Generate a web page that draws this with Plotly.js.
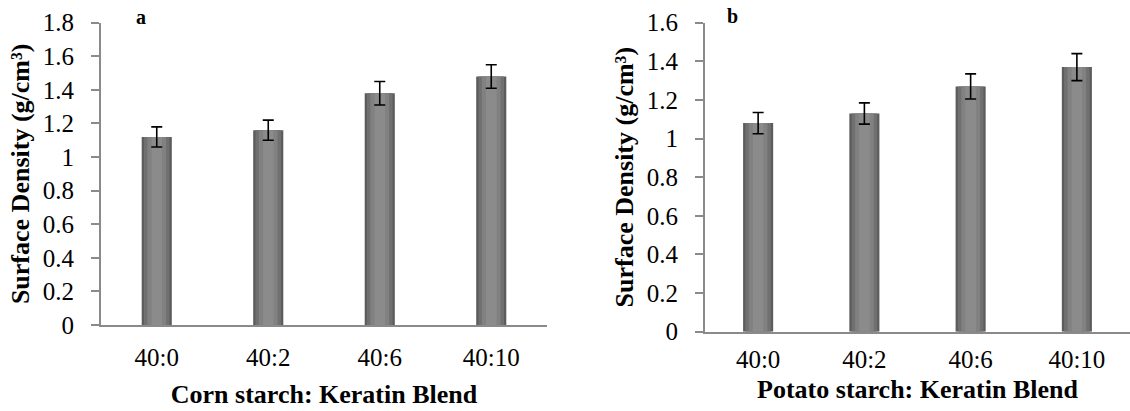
<!DOCTYPE html>
<html><head><meta charset="utf-8">
<script src="https://cdn.plot.ly/plotly-3.0.1.min.js"></script>
<style>html,body{margin:0;padding:0;background:#fff}</style>
</head><body><div id="chart" style="width:1130px;height:411px"></div>
<script>
const categories = ['40:0', '40:2', '40:6', '40:10'];
const cornDensity = [1.12, 1.16, 1.38, 1.48];
const cornError = [0.06, 0.06, 0.07, 0.07];
const potatoDensity = [1.08, 1.13, 1.27, 1.37];
const potatoError = [0.055, 0.055, 0.065, 0.07];
const cornTicks = [0, 0.2, 0.4, 0.6, 0.8, 1, 1.2, 1.4, 1.6, 1.8];
const potatoTicks = [0, 0.2, 0.4, 0.6, 0.8, 1, 1.2, 1.4, 1.6];
const yTitle = 'Surface Density (g/cm³)';
const xTitleCorn = 'Corn starch: Keratin Blend';
const xTitlePotato = 'Potato starch: Keratin Blend';

const FONT = '"Liberation Serif", "Times New Roman", Times, serif';

function layers(y, err, xa, ya, w) {
  const shades = [
    {c: '#5c5c5c', f: 1.0},
    {c: '#707070', f: 0.85},
    {c: '#818181', f: 0.62},
    {c: '#8b8b8b', f: 0.35}
  ];
  return shades.map((s, i) => ({
    type: 'bar', x: categories, y: y, xaxis: xa, yaxis: ya,
    width: w * s.f, marker: {color: s.c, line: {width: 0}},
    hoverinfo: 'skip', showlegend: false,
    error_y: i === shades.length - 1 ? {type: 'data', array: err, visible: true, color: '#000', thickness: 1.6, width: 5.5} : {visible: false}
  }));
}

const data = [].concat(
  layers(cornDensity, cornError, 'x', 'y', 0.27),
  layers(potatoDensity, potatoError, 'x2', 'y2', 0.283)
);

const axisLine = {showline: true, linecolor: '#8a8a8a', linewidth: 2, showgrid: false, zeroline: false};
const tickFont = {family: FONT, size: 25, color: '#000'};
const titleFont = {family: FONT, size: 26, color: '#000', weight: 'bold'};

const layout = {
  width: 1130, height: 411,
  margin: {l: 0, r: 0, t: 0, b: 0},
  paper_bgcolor: '#fff', plot_bgcolor: '#fff',
  barmode: 'overlay',
  font: {family: FONT, color: '#000'},
  xaxis: Object.assign({}, axisLine, {
    domain: [101/1130, 547/1130], anchor: 'y', range: [-0.5, 3.5],
    ticks: '', tickfont: tickFont, ticklabelstandoff: 9,
    title: {text: xTitleCorn, font: titleFont, standoff: 15}
  }),
  yaxis: Object.assign({}, axisLine, {
    domain: [1 - 325/411, 1 - 22.7/411], anchor: 'x', range: [0, 1.8],
    tickvals: cornTicks, ticks: 'outside', ticklen: 8, tickwidth: 2, tickcolor: '#8a8a8a',
    tickfont: tickFont, ticklabelstandoff: 12,
    title: {text: yTitle, font: titleFont, standoff: 6}
  }),
  xaxis2: Object.assign({}, axisLine, {
    domain: [705/1130, 1], anchor: 'y2', range: [-0.5, 3.5],
    ticks: '', tickfont: tickFont, ticklabelstandoff: 4,
    title: {text: xTitlePotato, font: titleFont, standoff: 8}
  }),
  yaxis2: Object.assign({}, axisLine, {
    domain: [1 - 331.7/411, 1 - 22.7/411], anchor: 'x2', range: [0, 1.6],
    tickvals: potatoTicks, ticks: 'outside', ticklen: 8, tickwidth: 2, tickcolor: '#8a8a8a',
    tickfont: tickFont, ticklabelstandoff: 12,
    title: {text: yTitle, font: titleFont, standoff: 6}
  }),
  annotations: [
    {text: '<b>a</b>', xref: 'paper', yref: 'paper', x: 141/1130, y: 1 - 17/411, xanchor: 'center', yanchor: 'middle', showarrow: false, font: {family: FONT, size: 20, color: '#000'}},
    {text: '<b>b</b>', xref: 'paper', yref: 'paper', x: 732/1130, y: 1 - 16/411, xanchor: 'center', yanchor: 'middle', showarrow: false, font: {family: FONT, size: 20, color: '#000'}}
  ]
};

Plotly.newPlot('chart', data, layout, {staticPlot: true, displayModeBar: false});
</script></body></html>
